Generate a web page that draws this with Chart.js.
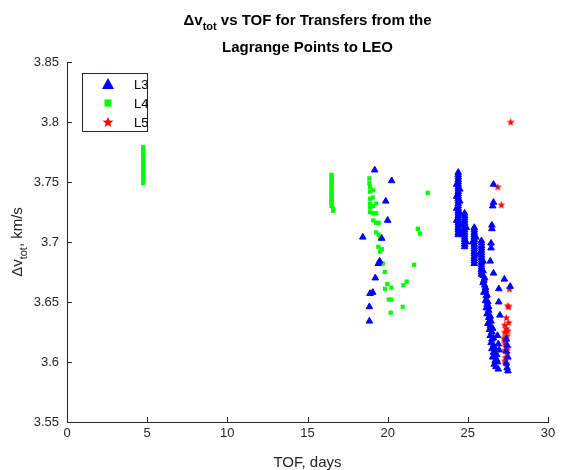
<!DOCTYPE html>
<html>
<head>
<meta charset="utf-8">
<script src="https://cdn.jsdelivr.net/npm/chart.js@4"></script>
<style>
  body { margin: 0; background: #fff; }
  canvas { display: block; }
</style>
</head>
<body>
<canvas id="chart" width="564" height="470"></canvas>
<script>
// Data: TOF (days) and total delta-v (km/s) per Lagrange point
const l3Tof = [
  // scattered points near 18.5-20 days
  19.19, 20.25, 19.88, 20.0, 18.45, 19.63, 19.42, 19.5, 19.23, 18.9, 19.07, 18.86, 18.86,
  // first dense column
  24.4, 24.4, 24.4, 24.4, 24.4, 24.4, 24.4, 24.4, 24.4, 24.4, 24.4, 24.4, 24.4, 24.4,
  24.4, 24.4, 24.4, 24.4, 24.4, 24.4, 24.4, 24.4, 24.4, 24.4, 24.4, 24.4, 24.4,
  24.3, 24.3, 24.3, 24.3, 24.5, 24.5, 24.5, 24.5, 24.5,
  // second column
  24.8, 24.8, 24.8, 24.8, 24.8, 24.8, 24.8, 24.8, 24.8, 24.8, 24.8, 24.8, 24.8, 24.8, 24.8,
  24.7, 24.7, 24.9, 24.9,
  // third column
  25.4, 25.4, 25.4, 25.4, 25.4, 25.4, 25.4, 25.4, 25.4, 25.4, 25.4, 25.4, 25.4, 25.4, 25.4, 25.4,
  25.3, 25.5, 25.5,
  // fourth column
  25.85, 25.85, 25.85, 25.85, 25.85, 25.85, 25.85, 25.85, 25.85, 25.85, 25.85, 25.85, 25.85, 25.85, 25.85,
  25.75, 25.95, 25.95,
  // descending band
  25.95, 26.0, 26.05, 25.95, 26.1, 26.0, 26.15, 26.1, 26.2, 26.15, 26.3, 26.2, 26.3, 26.35,
  26.25, 26.4, 26.35, 26.5, 26.4, 26.5, 26.45, 26.6, 26.5, 26.6, 26.7, 26.55, 26.7, 26.65,
  26.75, 26.85, 26.8, 26.9, 26.95, 26.9, 26.85,
  26.05, 26.1, 26.2, 26.25, 26.3, 26.4, 26.45, 26.55, 26.6, 26.65, 26.75, 26.8,
  // bottom right chain
  27.4, 27.45, 27.4, 27.5, 27.4, 27.45, 27.5,
  // isolated chain right of the columns
  26.6, 26.6, 26.55, 26.5, 26.5, 26.45, 26.45, 26.4, 26.6,
  27.28, 27.64, 26.93, 26.93, 27.0
];
const l3Dv = [
  3.760, 3.751, 3.734, 3.718, 3.704, 3.703, 3.682, 3.684, 3.670, 3.657, 3.658, 3.646, 3.634,
  3.758, 3.756, 3.754, 3.752, 3.750, 3.748, 3.746, 3.744, 3.742, 3.740, 3.738, 3.736, 3.734, 3.732,
  3.730, 3.728, 3.726, 3.724, 3.722, 3.720, 3.718, 3.716, 3.714, 3.712, 3.710, 3.708, 3.706,
  3.748, 3.738, 3.728, 3.718, 3.744, 3.734, 3.724, 3.714, 3.709,
  3.724, 3.722, 3.720, 3.718, 3.716, 3.714, 3.712, 3.710, 3.708, 3.706, 3.704, 3.702, 3.700, 3.698, 3.696,
  3.716, 3.706, 3.712, 3.700,
  3.712, 3.710, 3.708, 3.706, 3.704, 3.702, 3.700, 3.698, 3.696, 3.694, 3.692, 3.690, 3.688, 3.686, 3.684, 3.682,
  3.700, 3.690, 3.704,
  3.701, 3.699, 3.697, 3.695, 3.693, 3.691, 3.689, 3.687, 3.685, 3.683, 3.681, 3.679, 3.677, 3.675, 3.673,
  3.690, 3.684, 3.676,
  3.672, 3.668, 3.664, 3.666, 3.660, 3.658, 3.655, 3.651, 3.648, 3.645, 3.643, 3.640, 3.637, 3.634,
  3.632, 3.630, 3.627, 3.625, 3.622, 3.619, 3.616, 3.614, 3.611, 3.608, 3.606, 3.604, 3.601, 3.598,
  3.596, 3.600, 3.606, 3.594, 3.610, 3.615, 3.622,
  3.670, 3.662, 3.656, 3.650, 3.646, 3.638, 3.634, 3.628, 3.620, 3.612, 3.610, 3.602,
  3.619, 3.614, 3.609, 3.604, 3.599, 3.595, 3.5925,
  3.748, 3.733, 3.730, 3.714, 3.711, 3.699, 3.695, 3.684, 3.674,
  3.669, 3.663, 3.661, 3.650, 3.639
];

const l4Tof = [
  4.75, 4.75, 4.75, 4.75, 4.75, 4.75, 4.75, 4.75, 4.75, 4.75, 4.75, 4.75, 4.75, 4.75, 4.75, 4.75,
  16.5, 16.5, 16.5, 16.5, 16.5, 16.5, 16.5, 16.5, 16.5, 16.5, 16.5, 16.5, 16.5, 16.5, 16.6, 16.6,
  18.86, 18.86, 18.9, 18.9, 19.1, 19.07, 18.9, 18.9, 19.28, 18.9, 19.1, 18.9, 19.07, 19.28,
  19.1, 19.28, 19.44, 19.28, 19.44, 19.53, 19.42, 19.63, 19.53, 19.69, 19.82, 19.98, 20.23,
  19.84, 20.07, 20.23, 20.19, 20.98, 21.19, 20.94, 21.65, 21.88, 22.02, 22.5
];
const l4Dv = [
  3.749, 3.751, 3.753, 3.755, 3.757, 3.759, 3.761, 3.763, 3.765, 3.767, 3.769, 3.771, 3.773, 3.775, 3.777, 3.779,
  3.756, 3.754, 3.752, 3.750, 3.748, 3.746, 3.744, 3.742, 3.740, 3.738, 3.736, 3.734, 3.732, 3.730, 3.728, 3.726,
  3.753, 3.749, 3.746, 3.742, 3.743, 3.737, 3.736, 3.732, 3.732, 3.729, 3.730, 3.725, 3.724, 3.724,
  3.718, 3.716, 3.716, 3.708, 3.706, 3.703, 3.696, 3.694, 3.692, 3.682, 3.675, 3.665, 3.662,
  3.661, 3.652, 3.652, 3.641, 3.664, 3.667, 3.646, 3.681, 3.711, 3.707, 3.741
];

const l5Tof = [
  27.68, 26.87, 27.09, 27.6, 27.5, 27.55, 27.4, 27.55,
  27.3, 27.4, 27.3, 27.45, 27.35, 27.3, 27.4, 27.3, 27.45, 27.35, 27.3, 27.4, 27.25, 27.5, 27.5
];
const l5Dv = [
  3.800, 3.746, 3.731, 3.661, 3.647, 3.646, 3.637, 3.633,
  3.631, 3.628, 3.625, 3.622, 3.619, 3.616, 3.613, 3.610, 3.607, 3.604, 3.601, 3.599, 3.620, 3.626, 3.612
];

const seriesNames = ['L3', 'L4', 'L5'];
const xTickVals = [0, 5, 10, 15, 20, 25, 30];
const xTickLabels = ['0', '5', '10', '15', '20', '25', '30'];
const yTickVals = [3.55, 3.6, 3.65, 3.7, 3.75, 3.8, 3.85];
const yTickLabels = ['3.55', '3.6', '3.65', '3.7', '3.75', '3.8', '3.85'];

const AXIS = '#262626';
const FONT = '"Liberation Sans", Arial, sans-serif';

function toPoints(xs, ys) {
  return xs.map((x, i) => ({ x: x, y: ys[i] }));
}

// filled five-point star, like MATLAB's pentagram marker
function makeStar(size, color) {
  const c = document.createElement('canvas');
  c.width = c.height = size;
  const g = c.getContext('2d');
  const cx = size / 2, cy = size / 2 + 0.4, R = size / 2 - 0.3, r = R * 0.42;
  g.beginPath();
  for (let i = 0; i < 10; i++) {
    const a = -Math.PI / 2 + i * Math.PI / 5;
    const rr = i % 2 ? r : R;
    g.lineTo(cx + rr * Math.cos(a), cy + rr * Math.sin(a));
  }
  g.closePath();
  g.fillStyle = color;
  g.fill();
  return c;
}
const starImg = makeStar(9, '#ff0000');

// draws text with a subscript part, starting at x (left)
function drawParts(ctx, parts, x, y, size, bold) {
  let cx = x;
  parts.forEach(p => {
    const fs = p.sub ? Math.round(size * 0.75) : size;
    ctx.font = (bold ? 'bold ' : '') + fs + 'px ' + FONT;
    ctx.fillText(p.t, cx, p.sub ? y + size * 0.35 : y);
    cx += ctx.measureText(p.t).width;
  });
}
function partsWidth(ctx, parts, size, bold) {
  let w = 0;
  parts.forEach(p => {
    const fs = p.sub ? Math.round(size * 0.75) : size;
    ctx.font = (bold ? 'bold ' : '') + fs + 'px ' + FONT;
    w += ctx.measureText(p.t).width;
  });
  return w;
}

const decorPlugin = {
  id: 'decor',
  afterDraw(chart) {
    const ctx = chart.ctx;
    const xs = chart.scales.x, ys = chart.scales.y;
    const area = chart.chartArea;
    ctx.save();
    ctx.strokeStyle = AXIS;
    ctx.lineWidth = 1;
    // inward ticks
    ctx.beginPath();
    xTickVals.forEach(v => {
      const px = Math.round(xs.getPixelForValue(v)) + 0.5;
      ctx.moveTo(px, area.bottom);
      ctx.lineTo(px, area.bottom - 5);
    });
    yTickVals.forEach(v => {
      const py = Math.round(ys.getPixelForValue(v)) + 0.5;
      ctx.moveTo(area.left, py);
      ctx.lineTo(area.left + 5, py);
    });
    ctx.stroke();

    // title
    ctx.fillStyle = '#000';
    ctx.textBaseline = 'alphabetic';
    ctx.textAlign = 'left';
    const cx = (area.left + area.right) / 2;
    const t1 = [{ t: '\u0394v' }, { t: 'tot', sub: true }, { t: ' vs TOF for Transfers from the' }];
    const w1 = partsWidth(ctx, t1, 15, true);
    drawParts(ctx, t1, cx - w1 / 2, 25, 15, true);
    const t2 = [{ t: 'Lagrange Points to LEO' }];
    const w2 = partsWidth(ctx, t2, 15, true);
    drawParts(ctx, t2, cx - w2 / 2, 52, 15, true);

    // x axis title
    ctx.fillStyle = AXIS;
    const xl = [{ t: 'TOF, days' }];
    const wx = partsWidth(ctx, xl, 15, false);
    drawParts(ctx, xl, cx - wx / 2, 467, 15, false);

    // y axis title, rotated
    const yl = [{ t: '\u0394v' }, { t: 'tot', sub: true }, { t: ', km/s' }];
    const wy = partsWidth(ctx, yl, 15, false);
    ctx.save();
    ctx.translate(22, (area.top + area.bottom) / 2);
    ctx.rotate(-Math.PI / 2);
    drawParts(ctx, yl, -wy / 2, 0, 15, false);
    ctx.restore();

    // legend box
    const lx = 82, ly = 73, lw = 65, lh = 58;
    ctx.fillStyle = '#fff';
    ctx.fillRect(lx, ly, lw, lh);
    ctx.strokeStyle = AXIS;
    ctx.strokeRect(lx + 0.5, ly + 0.5, lw, lh);
    ctx.font = '13px ' + FONT;
    ctx.textBaseline = 'middle';
    chart.data.datasets.forEach((ds, i) => {
      const my = ly + 11 + i * 19;
      const mx = lx + 26;
      if (ds.pointStyle === 'triangle') {
        ctx.fillStyle = ds.backgroundColor;
        ctx.beginPath();
        ctx.moveTo(mx, my - 6);
        ctx.lineTo(mx + 6, my + 5);
        ctx.lineTo(mx - 6, my + 5);
        ctx.closePath();
        ctx.fill();
      } else if (ds.pointStyle === 'rect') {
        ctx.fillStyle = ds.backgroundColor;
        ctx.fillRect(mx - 3.5, my - 3.5, 7, 7);
      } else {
        ctx.drawImage(makeStar(12, '#ff0000'), mx - 6, my - 6);
      }
      ctx.fillStyle = '#000';
      ctx.fillText(ds.label, lx + 52, my + 1);
    });
    ctx.restore();
  }
};

const ctx = document.getElementById('chart').getContext('2d');
new Chart(ctx, {
  type: 'scatter',
  data: {
    datasets: [
      {
        label: seriesNames[0],
        data: toPoints(l3Tof, l3Dv),
        pointStyle: 'triangle',
        backgroundColor: '#0000ff',
        borderColor: '#0000ff',
        borderWidth: 1,
        pointRadius: 3.8
      },
      {
        label: seriesNames[1],
        data: toPoints(l4Tof, l4Dv),
        pointStyle: 'rect',
        backgroundColor: '#00ff00',
        borderColor: '#00ff00',
        borderWidth: 0,
        pointRadius: 3
      },
      {
        label: seriesNames[2],
        data: toPoints(l5Tof, l5Dv),
        pointStyle: starImg,
        backgroundColor: '#ff0000',
        borderColor: '#ff0000'
      }
    ]
  },
  options: {
    responsive: false,
    animation: false,
    events: [],
    layout: { padding: { left: 0, top: 62, right: 16, bottom: 0 } },
    plugins: {
      legend: { display: false },
      title: { display: false },
      tooltip: { enabled: false }
    },
    scales: {
      x: {
        type: 'linear',
        min: 0,
        max: 30,
        afterBuildTicks: s => { s.ticks = xTickVals.map(v => ({ value: v })); },
        afterFit: s => { s.height = 48; },
        grid: { display: false, drawTicks: false },
        border: { color: AXIS, width: 1 },
        ticks: {
          color: AXIS,
          padding: 4,
          font: { family: FONT, size: 13 },
          maxRotation: 0,
          callback: (v, i) => xTickLabels[i]
        }
      },
      y: {
        type: 'linear',
        min: 3.55,
        max: 3.85,
        afterBuildTicks: s => { s.ticks = yTickVals.map(v => ({ value: v })); },
        afterFit: s => { s.width = 67; },
        grid: { display: false, drawTicks: false },
        border: { color: AXIS, width: 1 },
        ticks: {
          color: AXIS,
          padding: 8,
          font: { family: FONT, size: 13 },
          callback: (v, i) => yTickLabels[i]
        }
      }
    }
  },
  plugins: [decorPlugin]
});
</script>
</body>
</html>
